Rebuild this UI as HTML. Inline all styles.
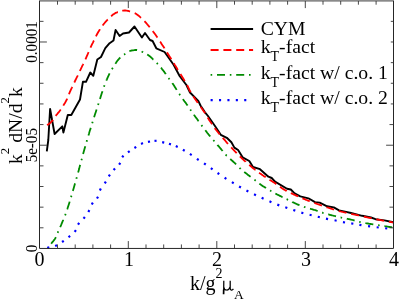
<!DOCTYPE html>
<html><head><meta charset="utf-8"><title>plot</title>
<style>html,body{margin:0;padding:0;background:#fff;}svg{display:block;will-change:transform;}</style></head>
<body>
<svg width="399" height="299" viewBox="0 0 399 299">
<rect width="399" height="299" fill="#fff"/>
<g fill="none" stroke-linejoin="round" stroke-linecap="butt">
<path d="M46.8,151.3 L48.3,140.0 L50.1,109.0 L54.6,134.0 L62.3,126.3 L63.4,132.6 L67.8,115.0 L71.3,115.0 L80.0,99.5 L82.9,81.8 L86.0,81.8 L90.3,72.5 L93.3,75.8 L97.3,59.5 L101.0,57.0 L105.3,48.2 L109.6,43.2 L113.5,40.5 L115.6,30.0 L119.6,36.0 L123.0,33.5 L129.0,32.5 L134.5,26.5 L141.9,37.5 L145.0,33.0 L150.0,40.0 L152.6,41.0 L156.3,48.3 L164.6,52.0 L173.6,64.8 L179.6,76.0 L186.4,85.0 L190.0,92.5 L198.3,100.8 L200.5,105.5 L205.0,112.3 L208.0,116.0 L214.8,125.8 L220.8,134.8 L226.8,137.8 L231.4,142.3 L234.4,147.6 L238.1,150.0 L242.6,157.3 L249.3,161.0 L253.0,167.0 L260.0,169.2 L268.4,176.7 L271.7,178.0 L275.0,181.6 L287.0,188.8 L290.8,189.5 L294.6,193.3 L300.3,196.4 L308.4,198.3 L315.0,202.1 L319.7,202.6 L327.1,206.3 L333.8,207.4 L339.1,210.4 L345.0,211.6 L351.0,213.0 L362.2,215.8 L371.0,217.5 L375.5,219.2 L384.4,220.4 L393.5,222.2" stroke="#000" stroke-width="1.9"/>
<path d="M47.0,125.0 L47.7,124.7 L48.4,124.3 L49.1,123.8 L49.8,123.2 L50.5,122.6 L51.2,121.9 L51.9,121.2 L52.6,120.5 L53.1,119.9 M55.8,115.9 L56.0,115.6 L56.7,114.6 L57.4,113.8 L58.1,112.9 L58.8,112.1 L59.5,111.2 L60.2,110.3 L60.7,109.6 M63.3,105.6 L63.7,104.9 L64.4,103.8 L65.1,102.7 L65.7,101.6 L66.4,100.3 L67.1,98.9 L67.2,98.6 M69.0,94.2 L69.2,93.6 L69.9,91.9 L70.6,90.3 L71.3,88.8 L72.0,87.3 L72.2,86.8 M74.3,82.5 L74.8,81.5 L75.5,80.0 L76.2,78.6 L76.9,77.2 L77.6,75.8 L77.8,75.3 M79.9,71.0 L80.3,70.1 L81.0,68.6 L81.7,67.2 L82.4,65.7 L83.1,64.3 L83.3,63.8 M85.4,59.4 L85.9,58.3 L86.6,56.7 L87.3,55.1 L88.0,53.5 L88.6,52.1 M90.5,47.7 L90.7,47.2 L91.4,45.7 L92.1,44.2 L92.8,42.8 L93.5,41.3 L93.9,40.5 M96.0,36.3 L96.3,35.6 L97.0,34.3 L97.7,33.0 L98.4,31.8 L99.1,30.7 L99.8,29.6 L99.9,29.3 M102.6,25.5 L103.2,24.7 L103.9,23.8 L104.6,23.0 L105.3,22.2 L106.0,21.4 L106.7,20.6 L107.4,19.9 L107.8,19.5 M111.1,16.2 L111.6,15.8 L112.3,15.2 L113.0,14.6 L113.7,14.1 L114.4,13.7 L115.1,13.2 L115.7,12.9 L116.4,12.6 L117.1,12.4 L117.8,12.1 L117.9,12.1 M122.3,10.8 L122.7,10.7 L123.4,10.6 L124.1,10.5 L124.8,10.5 L125.5,10.5 L126.2,10.6 L126.9,10.6 L127.5,10.8 L128.2,10.9 L128.9,11.1 L129.6,11.3 L130.1,11.4 M134.7,13.1 L135.2,13.3 L135.9,13.7 L136.6,14.2 L137.3,14.7 L138.0,15.2 L138.7,15.8 L139.4,16.3 L140.0,16.9 L140.7,17.5 L141.1,17.8 M144.5,21.2 L144.9,21.6 L145.6,22.4 L146.3,23.2 L147.0,24.0 L147.7,24.8 L148.4,25.7 L149.1,26.5 L149.7,27.3 M152.8,31.1 L153.2,31.7 L153.9,32.6 L154.6,33.5 L155.3,34.5 L156.0,35.4 L156.7,36.4 L157.4,37.4 L157.5,37.5 M160.1,41.6 L160.2,41.7 L160.9,42.8 L161.6,43.9 L162.3,45.0 L163.0,46.0 L163.7,47.1 L164.4,48.2 L164.4,48.3 M167.0,52.4 L167.1,52.6 L167.8,53.7 L168.5,54.8 L169.2,55.9 L169.9,57.0 L170.6,58.1 L171.3,59.2 M173.8,63.2 L174.1,63.7 L174.8,64.9 L175.5,66.0 L176.2,67.1 L176.9,68.3 L177.5,69.4 L178.0,70.1 M180.5,74.1 L181.0,74.9 L181.7,76.1 L182.4,77.2 L183.1,78.3 L183.8,79.4 L184.5,80.6 L184.7,80.9 M187.1,85.1 L187.3,85.5 L188.0,86.9 L188.7,88.4 L189.3,89.8 L190.0,91.1 L190.7,92.2 M193.3,96.3 L193.5,96.7 L194.2,97.7 L194.9,98.7 L195.6,99.7 L196.3,100.7 L197.0,101.7 L197.7,102.7 L197.8,102.9 M200.6,106.8 L201.2,107.5 L201.8,108.5 L202.5,109.4 L203.2,110.4 L203.9,111.4 L204.6,112.4 L205.2,113.3 M207.7,117.5 L208.1,118.2 L208.8,119.4 L209.5,120.5 L210.2,121.5 L210.9,122.6 L211.6,123.6 L212.0,124.2 M214.8,128.1 L215.0,128.4 L215.7,129.4 L216.4,130.3 L217.1,131.2 L217.8,132.0 L218.5,132.9 L219.2,133.8 L219.7,134.4 M222.7,137.9 L223.4,138.6 L224.1,139.4 L224.8,140.2 L225.5,141.0 L226.2,141.8 L226.8,142.6 L227.5,143.3 L228.0,143.9 M231.2,147.3 L231.7,147.9 L232.4,148.7 L233.1,149.4 L233.8,150.1 L234.5,150.9 L235.2,151.6 L235.9,152.3 L236.6,153.0 L236.7,153.1 M239.9,156.4 L240.0,156.5 L240.7,157.2 L241.4,157.9 L242.1,158.5 L242.8,159.2 L243.5,159.9 L244.2,160.5 L244.9,161.1 L245.6,161.7 L245.7,161.9 M249.2,164.9 L249.8,165.4 L250.5,166.0 L251.2,166.5 L251.8,167.1 L252.5,167.7 L253.2,168.2 L253.9,168.8 L254.6,169.3 L255.3,169.9 L255.4,169.9 M259.1,172.7 L259.5,173.0 L260.2,173.5 L260.9,173.9 L261.6,174.4 L262.3,174.9 L263.0,175.4 L263.6,175.9 L264.3,176.4 L265.0,176.8 L265.7,177.3 M269.5,179.7 L269.9,180.0 L270.6,180.4 L271.3,180.8 L272.0,181.3 L272.7,181.7 L273.4,182.1 L274.1,182.6 L274.8,183.0 L275.5,183.5 L276.1,184.0 L276.3,184.1 M280.0,186.8 L280.3,187.0 L281.0,187.5 L281.7,188.0 L282.4,188.5 L283.1,188.9 L283.8,189.4 L284.5,189.8 L285.2,190.2 L285.9,190.6 L286.6,190.9 L286.7,191.0 M290.8,193.1 L291.4,193.3 L292.1,193.6 L292.8,194.0 L293.5,194.3 L294.2,194.6 L294.9,194.9 L295.6,195.3 L296.3,195.6 L297.0,195.9 L297.7,196.2 L298.1,196.4 M302.4,198.3 L302.5,198.3 L303.2,198.6 L303.9,198.9 L304.6,199.2 L305.3,199.5 L306.0,199.8 L306.7,200.0 L307.4,200.3 L308.1,200.6 L308.8,200.9 L309.5,201.1 L309.8,201.3 M314.3,203.0 L314.3,203.0 L315.0,203.2 L315.7,203.5 L316.4,203.7 L317.1,204.0 L317.8,204.2 L318.5,204.5 L319.2,204.7 L319.9,205.0 L320.6,205.2 L321.3,205.4 L321.9,205.6 M326.5,207.2 L326.8,207.3 L327.5,207.5 L328.2,207.7 L328.9,208.0 L329.6,208.2 L330.3,208.4 L331.0,208.6 L331.7,208.8 L332.4,209.0 L333.1,209.3 L333.8,209.5 L334.1,209.6 M338.7,210.9 L339.3,211.1 L340.0,211.3 L340.7,211.5 L341.4,211.7 L342.1,211.8 L342.8,212.0 L343.5,212.2 L344.2,212.3 L344.9,212.5 L345.6,212.7 L346.3,212.8 L346.5,212.9 M351.2,213.9 L351.8,214.0 L352.5,214.1 L353.2,214.3 L353.9,214.4 L354.6,214.6 L355.3,214.7 L356.0,214.9 L356.7,215.0 L357.4,215.2 L358.1,215.3 L358.8,215.5 L359.0,215.6 M363.8,216.6 L364.3,216.7 L365.0,216.9 L365.7,217.0 L366.4,217.2 L367.1,217.3 L367.8,217.5 L368.5,217.6 L369.2,217.8 L369.9,217.9 L370.6,218.1 L371.3,218.2 L371.6,218.3 M376.3,219.3 L376.8,219.4 L377.5,219.5 L378.2,219.6 L378.9,219.8 L379.6,219.9 L380.3,220.1 L381.0,220.2 L381.7,220.3 L382.4,220.5 L383.1,220.6 L383.8,220.7 L384.1,220.8 M388.9,221.7 L389.3,221.8 L390.0,221.9 L390.7,222.0 L391.4,222.1 L392.1,222.3 L392.8,222.4 L393.5,222.5" stroke="#f00" stroke-width="1.8"/>
<path d="M48.0,248.0 L48.4,247.5 M51.2,243.7 L51.5,243.3 L52.2,242.4 L52.8,241.6 L53.5,240.8 L54.2,239.9 L54.9,238.9 L55.6,237.7 L55.8,237.2 M57.6,232.9 L57.7,232.7 L58.3,231.4 M60.2,227.1 L60.5,226.5 L61.2,224.9 L61.8,223.3 L62.5,221.6 L63.2,220.0 L63.3,219.7 M65.1,215.3 L65.3,214.8 L65.7,213.8 M67.2,209.3 L67.4,208.8 L68.1,206.6 L68.8,204.5 L69.5,202.3 L69.6,201.7 M71.0,197.1 L71.5,195.6 M72.8,191.0 L72.9,190.7 L73.6,188.4 L74.3,186.0 L75.0,183.6 L75.1,183.4 M76.4,178.8 L76.4,178.7 L76.8,177.2 M78.1,172.6 L78.5,171.2 L79.2,168.6 L79.8,166.1 L80.2,164.9 M81.4,160.2 L81.9,158.7 M83.1,154.0 L83.3,153.3 L84.0,150.8 L84.7,148.3 L85.3,146.3 M86.6,141.7 L86.8,141.1 L87.0,140.1 M88.4,135.5 L88.9,134.1 L89.5,131.8 L90.2,129.6 L90.8,127.9 M92.2,123.3 L92.3,122.9 L92.7,121.7 M94.1,117.2 L94.4,116.3 L95.1,114.1 L95.8,112.0 L96.5,109.8 L96.6,109.5 M98.1,105.0 L98.5,103.5 L98.5,103.4 M100.0,98.9 L100.6,96.9 L101.3,94.8 L102.0,92.6 L102.5,91.2 M104.0,86.7 L104.1,86.4 L104.5,85.2 M106.3,80.7 L106.9,79.3 L107.5,77.8 L108.2,76.3 L108.9,74.8 L109.6,73.4 L109.6,73.4 M111.9,69.2 L112.4,68.4 L112.8,67.8 M115.3,63.8 L115.9,63.0 L116.5,62.0 L117.2,61.0 L117.9,60.1 L118.6,59.3 L119.3,58.5 L120.0,57.8 L120.3,57.5 M124.0,54.6 L124.2,54.5 L124.9,54.0 L125.3,53.7 M129.3,51.1 L129.7,51.0 L130.4,50.8 L131.1,50.6 L131.8,50.5 L132.5,50.4 L133.2,50.3 L133.9,50.2 L134.5,50.1 L135.2,50.0 L135.9,50.0 L136.6,50.0 L137.1,50.1 M141.6,51.5 L142.2,51.8 L142.9,52.1 L143.1,52.2 M147.2,54.5 L147.7,54.8 L148.4,55.3 L149.1,55.8 L149.8,56.3 L150.5,56.9 L151.2,57.5 L151.9,58.1 L152.6,58.8 L153.2,59.5 L153.4,59.6 M156.7,63.0 L156.7,63.0 L157.4,63.7 L157.8,64.1 M161.0,67.7 L161.6,68.4 L162.2,69.3 L162.9,70.1 L163.6,71.0 L164.3,71.9 L165.0,72.9 L165.7,73.9 L165.8,74.1 M168.5,78.1 L169.2,79.0 L169.4,79.4 M172.3,83.1 L172.6,83.6 L173.3,84.6 L174.0,85.6 L174.7,86.7 L175.4,87.8 L176.1,88.9 L176.7,89.9 M179.2,93.9 L179.6,94.4 L180.1,95.2 M182.9,99.1 L183.0,99.3 L183.7,100.2 L184.4,101.2 L185.1,102.1 L185.8,103.1 L186.5,104.1 L187.2,105.0 L187.6,105.6 M190.3,109.5 L190.6,110.0 L191.2,110.8 M194.0,114.7 L194.1,114.9 L194.8,115.9 L195.5,116.9 L196.2,117.9 L196.9,118.8 L197.6,119.8 L198.2,120.8 L198.6,121.3 M201.4,125.1 L201.7,125.5 L202.4,126.4 M205.3,130.2 L205.9,131.0 L206.6,131.9 L207.2,132.8 L207.9,133.7 L208.6,134.5 L209.3,135.4 L210.0,136.2 L210.2,136.5 M213.3,140.1 L213.5,140.3 L214.2,141.1 L214.3,141.3 M217.5,144.9 L217.6,145.1 L218.3,145.9 L219.0,146.7 L219.7,147.5 L220.4,148.3 L221.1,149.1 L221.8,150.0 L222.5,150.8 L222.6,151.0 M225.7,154.6 L225.9,154.9 L226.6,155.7 L226.8,155.8 M230.3,159.0 L230.8,159.5 L231.5,160.1 L232.2,160.7 L232.9,161.3 L233.6,162.0 L234.3,162.6 L234.9,163.2 L235.6,163.9 L236.1,164.4 M239.5,167.8 L239.8,168.1 L240.5,168.7 L240.7,168.9 M244.3,171.9 L244.6,172.2 L245.3,172.7 L246.0,173.3 L246.7,173.8 L247.4,174.4 L248.1,174.9 L248.8,175.4 L249.5,176.0 L250.2,176.5 L250.6,176.8 M254.4,179.7 L255.0,180.1 L255.7,180.7 M259.3,183.7 L259.9,184.1 L260.6,184.6 L261.3,185.1 L261.9,185.5 L262.6,186.0 L263.3,186.4 L264.0,186.8 L264.7,187.2 L265.4,187.6 L266.0,188.0 M270.0,190.4 L270.3,190.6 L270.9,191.0 L271.4,191.2 M275.4,193.5 L275.8,193.7 L276.5,194.1 L277.2,194.5 L277.9,194.8 L278.6,195.2 L279.3,195.5 L279.9,195.9 L280.6,196.2 L281.3,196.5 L282.0,196.9 L282.6,197.1 M286.6,199.1 L286.9,199.2 L287.6,199.6 L288.1,199.8 M292.3,201.9 L292.4,202.0 L293.1,202.3 L293.8,202.7 L294.5,203.0 L295.2,203.3 L295.9,203.7 L296.6,204.0 L297.3,204.3 L298.0,204.6 L298.6,204.9 L299.3,205.1 L299.5,205.2 M303.9,206.8 L304.2,206.9 L304.9,207.1 L305.4,207.3 M310.0,208.7 L310.4,208.8 L311.1,209.0 L311.8,209.2 L312.5,209.4 L313.2,209.6 L313.9,209.8 L314.6,210.0 L315.3,210.2 L316.0,210.4 L316.6,210.6 L317.3,210.8 L317.7,210.9 M322.1,212.6 L322.2,212.6 L322.9,212.9 L323.6,213.1 L323.6,213.1 M328.2,214.4 L328.4,214.4 L329.1,214.6 L329.8,214.8 L330.5,215.0 L331.2,215.1 L331.9,215.3 L332.6,215.5 L333.3,215.7 L334.0,215.8 L334.6,216.0 L335.3,216.2 L336.0,216.4 M340.6,217.5 L340.9,217.5 L341.6,217.7 L342.1,217.8 M346.8,218.7 L347.1,218.8 L347.8,218.9 L348.5,219.1 L349.2,219.2 L349.9,219.4 L350.6,219.5 L351.3,219.7 L352.0,219.8 L352.6,220.0 L353.3,220.2 L354.0,220.4 L354.6,220.6 M359.2,221.8 L359.6,221.9 L360.3,222.1 L360.7,222.2 M365.4,223.1 L365.8,223.2 L366.5,223.3 L367.2,223.4 L367.9,223.5 L368.6,223.6 L369.3,223.8 L370.0,223.9 L370.7,224.0 L371.3,224.1 L372.0,224.2 L372.7,224.3 L373.3,224.4 M378.1,225.2 L378.3,225.2 L379.0,225.3 L379.7,225.5 M384.4,226.2 L384.5,226.2 L385.2,226.3 L385.9,226.4 L386.6,226.5 L387.3,226.6 L388.0,226.7 L388.7,226.8 L389.3,226.9 L390.0,227.0 L390.7,227.1 L391.4,227.2 L392.1,227.3 L392.3,227.3" stroke="#008B00" stroke-width="1.8"/>
</g>
<path d="M47.28,247.86 L49.32,247.34 M55.13,246.01 L57.07,245.19 M62.03,241.99 L63.77,240.81 M68.50,237.27 L70.10,235.93 M74.68,231.85 L75.92,230.15 M78.01,224.67 L79.19,222.93 M83.54,218.67 L84.86,217.03 M88.33,211.96 L89.37,210.14 M91.73,204.48 L92.87,202.72 M96.98,198.51 L98.02,196.69 M99.87,190.43 L100.83,188.57 M104.73,183.43 L105.87,181.67 M108.76,176.37 L109.94,174.63 M113.60,169.99 L115.00,168.41 M119.12,164.67 L120.28,162.93 M122.17,157.24 L123.43,155.56 M127.95,152.41 L129.65,151.19 M134.41,147.96 L136.19,146.84 M141.03,143.90 L142.97,143.10 M147.97,141.91 L150.03,141.49 M154.45,140.75 L156.55,140.85 M162.18,142.17 L164.22,142.63 M168.95,143.74 L170.95,144.36 M175.79,146.12 L177.71,146.98 M182.89,149.78 L184.71,150.82 M189.92,153.93 L191.68,155.07 M196.93,158.82 L198.67,159.98 M204.03,163.31 L205.77,164.49 M210.85,168.19 L212.55,169.41 M217.54,173.00 L219.26,174.20 M224.61,177.74 L226.39,178.86 M231.90,182.16 L233.70,183.24 M239.09,186.48 L240.91,187.52 M246.47,190.52 L248.33,191.48 M254.05,194.35 L255.95,195.25 M261.64,197.77 L263.56,198.63 M269.49,201.33 L271.41,202.17 M277.31,204.64 L279.29,205.36 M285.30,207.27 L287.30,207.93 M293.30,209.97 L295.30,210.63 M301.34,212.66 L303.36,213.24 M309.58,214.70 L311.62,215.20 M317.78,216.75 L319.82,217.25 M325.97,218.69 L328.03,219.11 M334.57,220.29 L336.63,220.71 M342.97,222.11 L345.03,222.49 M351.26,223.43 L353.34,223.77 M359.36,224.83 L361.44,225.17 M368.06,226.16 L370.14,226.44 M376.66,227.27 L378.74,227.53 M385.16,228.28 L387.24,228.52" stroke="#00f" stroke-width="2.2" fill="none"/>
<rect x="39.00" y="0" width="355.00" height="1.7" fill="#8a8a8a"/>
<g stroke="#262626" stroke-width="1" fill="none">
<path d="M39.50,1.00 V248.45 H393.50 V1.00"/>
</g>
<g stroke="#333" stroke-width="0.9" fill="none">
<path d="M57.50,248.45 v-4.00 M57.50,1.00 v3.70 M75.20,248.45 v-4.00 M75.20,1.00 v3.70 M92.90,248.45 v-4.00 M92.90,1.00 v3.70 M110.60,248.45 v-4.00 M110.60,1.00 v3.70 M128.30,248.45 v-7.40 M128.30,1.00 v7.10 M146.00,248.45 v-4.00 M146.00,1.00 v3.70 M163.70,248.45 v-4.00 M163.70,1.00 v3.70 M181.40,248.45 v-4.00 M181.40,1.00 v3.70 M199.10,248.45 v-4.00 M199.10,1.00 v3.70 M216.80,248.45 v-7.40 M216.80,1.00 v7.10 M234.50,248.45 v-4.00 M234.50,1.00 v3.70 M252.20,248.45 v-4.00 M252.20,1.00 v3.70 M269.90,248.45 v-4.00 M269.90,1.00 v3.70 M287.60,248.45 v-4.00 M287.60,1.00 v3.70 M305.30,248.45 v-7.40 M305.30,1.00 v7.10 M323.00,248.45 v-4.00 M323.00,1.00 v3.70 M340.70,248.45 v-4.00 M340.70,1.00 v3.70 M358.40,248.45 v-4.00 M358.40,1.00 v3.70 M376.10,248.45 v-4.00 M376.10,1.00 v3.70 M39.50,227.80 h4.00 M393.50,227.80 h-4.00 M39.50,207.16 h4.00 M393.50,207.16 h-4.00 M39.50,186.51 h4.00 M393.50,186.51 h-4.00 M39.50,165.87 h4.00 M393.50,165.87 h-4.00 M39.50,145.22 h7.40 M393.50,145.22 h-7.40 M39.50,124.57 h4.00 M393.50,124.57 h-4.00 M39.50,103.93 h4.00 M393.50,103.93 h-2.70 M39.50,83.28 h4.00 M393.50,83.28 h-2.70 M39.50,62.64 h4.00 M393.50,62.64 h-2.70 M39.50,41.99 h7.40 M393.50,41.99 h-2.70 M39.50,21.35 h4.00 M393.50,21.35 h-2.70"/>
</g>
<g font-family="'Liberation Serif', serif" fill="#000">
<text x="39.50" y="266" font-size="20" text-anchor="middle">0</text>
<text x="128.90" y="266" font-size="20" text-anchor="middle">1</text>
<text x="217.00" y="266" font-size="20" text-anchor="middle">2</text>
<text x="305.90" y="266" font-size="20" text-anchor="middle">3</text>
<text x="393.90" y="266" font-size="20" text-anchor="middle">4</text>
<text transform="translate(36.5,248.45) rotate(-90) scale(0.93,1)" font-size="16.2" text-anchor="middle">0</text>
<text transform="translate(36.5,145.22) rotate(-90) scale(0.93,1)" font-size="16.2" text-anchor="middle">5e-05</text>
<text transform="translate(36.5,41.99) rotate(-90) scale(0.93,1)" font-size="16.2" text-anchor="middle">0.0001</text>
<text transform="translate(22.4,164) rotate(-90)" font-size="19.7">k<tspan font-size="12.8" dy="-13">2</tspan><tspan dy="13"> dN/d</tspan><tspan font-size="12.8" dy="-13">2</tspan><tspan dy="13">k</tspan></text>
<text x="189.9" y="290.4" font-size="20">k/g</text>
<text x="215.6" y="277.9" font-size="14">2</text>
<g fill="none" stroke="#000" stroke-width="1.25" stroke-linecap="butt"><title>μ</title><path d="M223.8,280.7 L223.7,290.5 M223.9,287.2 C224.2,290.7 228.8,291.3 230.2,286.8 M230.2,280.7 L230.2,288.2 C230.3,290.4 232.2,290.7 233.4,288.9"/><path d="M223.7,289.5 L223.6,294.2" stroke-width="1.7"/></g>
<text x="234.0" y="298.6" font-size="13.5">A</text>
<text x="260.7" y="35.3" font-size="19.7">CYM</text>
<text x="260.7" y="53.0" font-size="19.7">k<tspan font-size="14" dy="8.3">T</tspan><tspan dy="-8.3">-fact</tspan></text>
<text x="260.7" y="78.6" font-size="19.7">k<tspan font-size="14" dy="8.3">T</tspan><tspan dy="-8.3">-fact w/ c.o. 1</tspan></text>
<text x="260.7" y="103.6" font-size="19.7">k<tspan font-size="14" dy="8.3">T</tspan><tspan dy="-8.3">-fact w/ c.o. 2</tspan></text>
</g>
<g fill="none">
<path d="M210.6,28.9 H253.1" stroke="#000" stroke-width="2"/>
<path d="M210.6,50 H253.1" stroke="#f00" stroke-width="2" stroke-dasharray="8,4.8"/>
<path d="M210.6,74.9 H253.1" stroke="#008B00" stroke-width="1.9" stroke-dasharray="1.6,4.8,8,4.8"/>
<path d="M210.6,100.1 H252.4" stroke="#00f" stroke-width="2.2" stroke-dasharray="2.1,6.3"/>
</g>
</svg>
</body></html>
